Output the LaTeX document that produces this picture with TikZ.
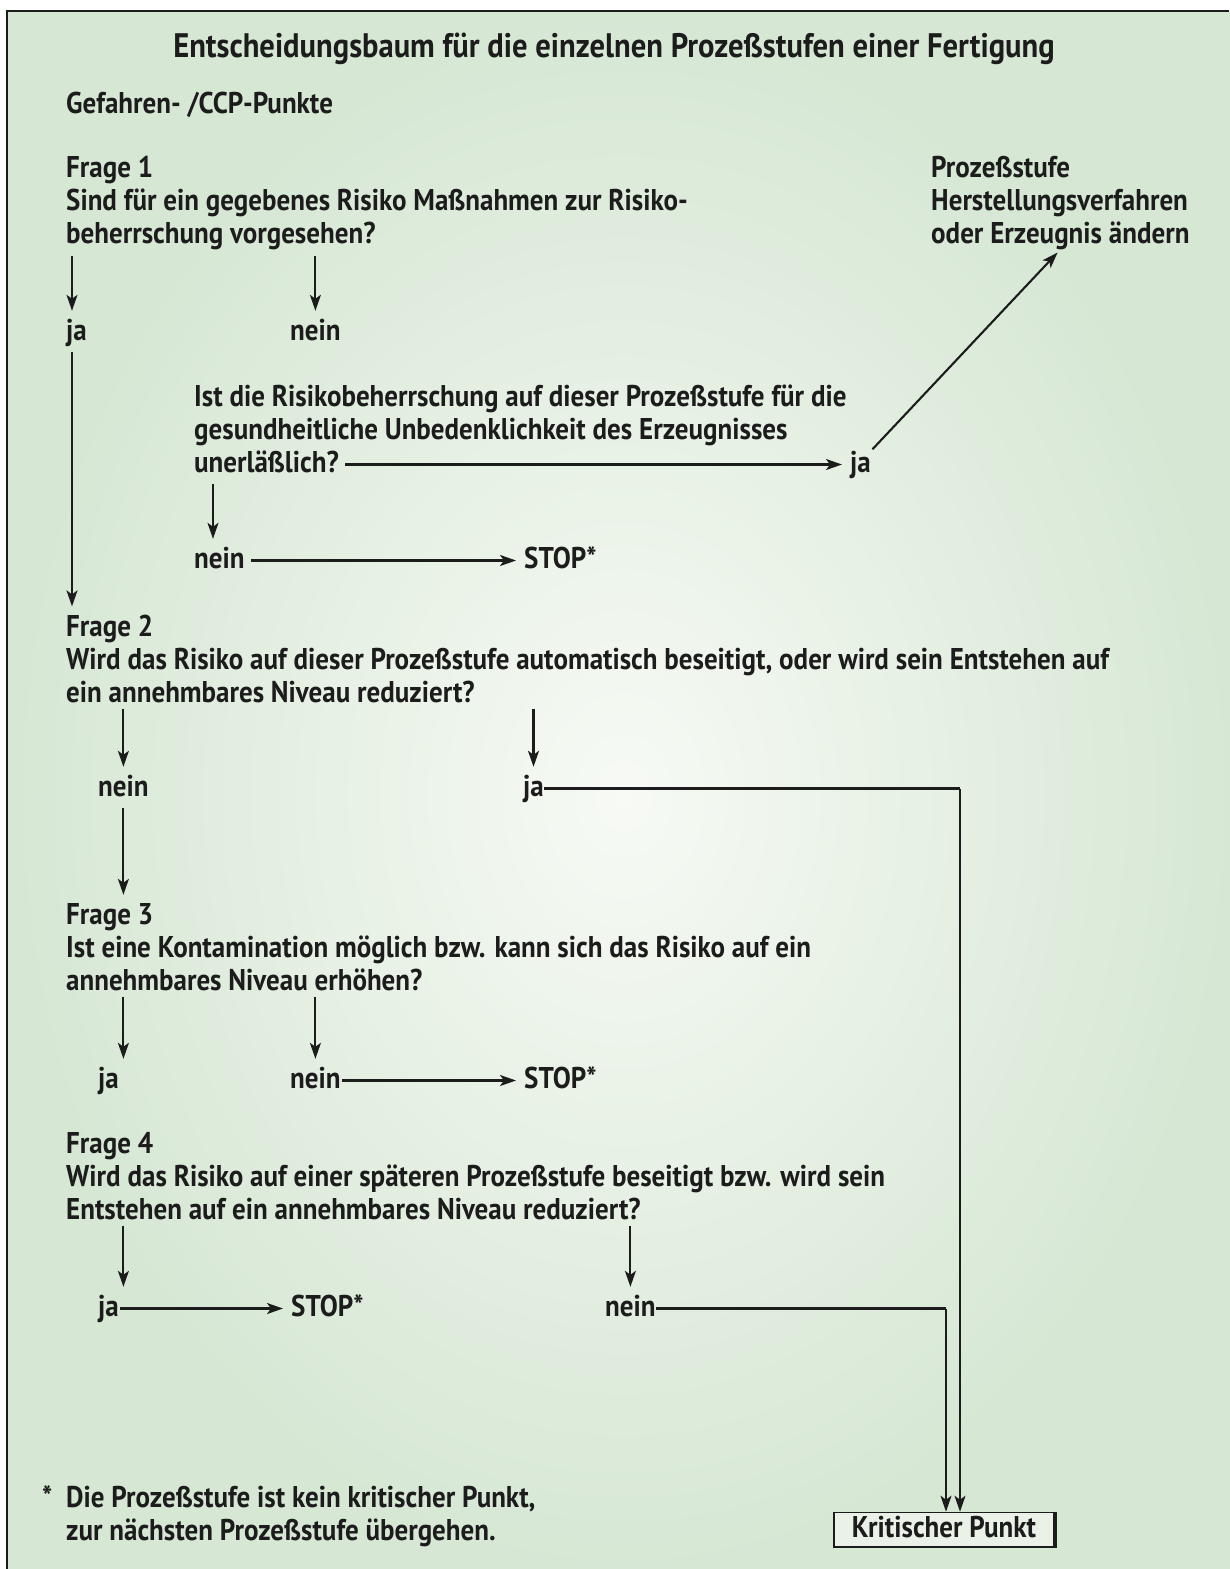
\documentclass[tikz,border=0pt]{standalone}
\usepackage{fontspec}
\setmainfont{PT Sans}[FakeStretch=0.9]
\usetikzlibrary{arrows.meta,positioning}
\definecolor{bgedge}{RGB}{214,231,212}
\definecolor{bgmid}{RGB}{247,250,245}
\definecolor{ink}{RGB}{28,28,28}

\begin{document}
\begin{tikzpicture}[
x=1pt, y=-1pt,
txt/.style={anchor=base west, inner sep=0pt, align=left, text=ink, font=\bfseries\fontsize{30}{33}\selectfont},
lbl/.style={txt, text height=21pt, text depth=6pt},
heading/.style={anchor=base, inner sep=0pt, text=ink, font=\bfseries\fontsize{34}{36}\selectfont},
kpbox/.style={draw=ink, line width=1.6pt, fill=bgedge!40!bgmid, inner xsep=18pt, inner ysep=4pt, text height=21pt, text depth=6pt, text=ink, font=\bfseries\fontsize{30}{33}\selectfont},
arrow/.style={-{Stealth[length=16pt,width=11pt,inset=4pt]}, line width=2.1pt, draw=ink, shorten <=6pt, shorten >=8pt},
line/.style={line width=2.1pt, draw=ink}
]
\useasboundingbox (0,0) rectangle (1229,1569);
\fill[white] (0,0) rectangle (1229,1569);
\shade[inner color=bgmid, outer color=bgedge] (7,11) rectangle (1240,1580);
\draw[line width=1.5pt, ink] (7,1569) -- (7,11) -- (1229,11);

\node[heading] (title) at (614,57) {Entscheidungsbaum für die einzelnen Prozeßstufen einer Fertigung};
\node[txt] (ccp) at (66,113) {Gefahren- /CCP-Punkte};

% Frage 1 (base = last line)
\node[txt] (q1) at (66,243) {Frage 1\\Sind für ein gegebenes Risiko Maßnahmen zur Risiko-\\beherrschung vorgesehen?};
\node[txt] (change) at (931,243) {Prozeßstufe\\Herstellungsverfahren\\oder Erzeugnis ändern};
\node[lbl] (ja1) at (66,340) {ja};
\node[lbl] (nein1) at (290,340) {nein};
\node[txt] (q1b) at (194,439) {Ist die Risikobeherrschung auf dieser Prozeßstufe für die\\gesundheitliche Unbedenklichkeit des Erzeugnisses};
\node[lbl] (unerl) at (194,472) {unerläßlich?};
\node[lbl] (ja2) at (850,472) {ja};
\node[lbl] (nein2) at (194,568) {nein};
\node[lbl] (stop1) at (524,568) {STOP*};

% Frage 2
\node[txt] (q2) at (66,702) {Frage 2\\Wird das Risiko auf dieser Prozeßstufe automatisch beseitigt, oder wird sein Entstehen auf\\ein annehmbares Niveau reduziert?};
\node[lbl] (nein3) at (98,796) {nein};
\node[lbl] (ja3) at (523,796) {ja};

% Frage 3
\node[txt] (q3) at (66,990) {Frage 3\\Ist eine Kontamination möglich bzw. kann sich das Risiko auf ein\\annehmbares Niveau erhöhen?};
\node[lbl] (ja4) at (98,1088) {ja};
\node[lbl] (nein4) at (290,1088) {nein};
\node[lbl] (stop2) at (524,1088) {STOP*};

% Frage 4
\node[txt] (q4) at (66,1219) {Frage 4\\Wird das Risiko auf einer späteren Prozeßstufe beseitigt bzw. wird sein\\Entstehen auf ein annehmbares Niveau reduziert?};
\node[lbl] (ja5) at (98,1316) {ja};
\node[lbl] (stop3) at (291,1316) {STOP*};
\node[lbl] (nein5) at (605,1316) {nein};

\node[txt] (star) at (42,1507) {*};
\node[txt] (note) at (66,1540) {Die Prozeßstufe ist kein kritischer Punkt,\\zur nächsten Prozeßstufe übergehen.};
\node[kpbox] (kp) at (944,1530) {Kritischer Punkt};
\draw[ink, line width=1.6pt] ([shift={(1.2pt,0pt)}]kp.north east) -- ([shift={(1.2pt,1.2pt)}]kp.south east) -- ([shift={(1.2pt,1.2pt)}]kp.south west);

\draw[arrow] ([xshift=6pt]q1.south west) -- ([xshift=6pt]ja1.north west);
\draw[arrow] (nein1.north |- q1.south) -- (nein1.north);
\draw[arrow] ([xshift=6pt]ja1.south west) -- ([xshift=6pt]q2.north west);
\draw[arrow] (unerl.east) -- (ja2.west);
\draw[arrow, shorten <=2pt, shorten >=4pt] (ja2.north east) -- (change.south);
\draw[arrow] ([xshift=19pt]unerl.south west) -- ([xshift=19pt]nein2.north west);
\draw[arrow] (nein2.east) -- (stop1.west);

\draw[arrow] (nein3.north |- q2.south) -- (nein3.north);
\draw[arrow] (ja3.north |- q2.south) -- (ja3.north);
\draw[line] (ja3.east) -- ([xshift=16pt]kp.north |- ja3.east);
\draw[arrow, shorten <=0pt, shorten >=0pt] ([xshift=16pt]kp.north |- ja3.east) -- ([xshift=16pt]kp.north);
\draw[arrow] (nein3.south) -- (nein3.south |- q3.north);

\draw[arrow] (nein3.north |- q3.south) -- (nein3.north |- ja4.north);
\draw[arrow] (nein4.north |- q3.south) -- (nein4.north);
\draw[arrow, shorten <=1pt] (nein4.east) -- (stop2.west);

\draw[arrow] (nein3.north |- q4.south) -- (nein3.north |- ja5.north);
\draw[arrow, shorten <=1pt] (ja5.east) -- (stop3.west);
\draw[arrow] (nein5.north |- q4.south) -- (nein5.north);
\draw[line] (nein5.east) -- ([xshift=2pt]kp.north |- nein5.east);
\draw[arrow, shorten <=0pt, shorten >=0pt] ([xshift=2pt]kp.north |- nein5.east) -- ([xshift=2pt]kp.north);
\end{tikzpicture}
\end{document}
